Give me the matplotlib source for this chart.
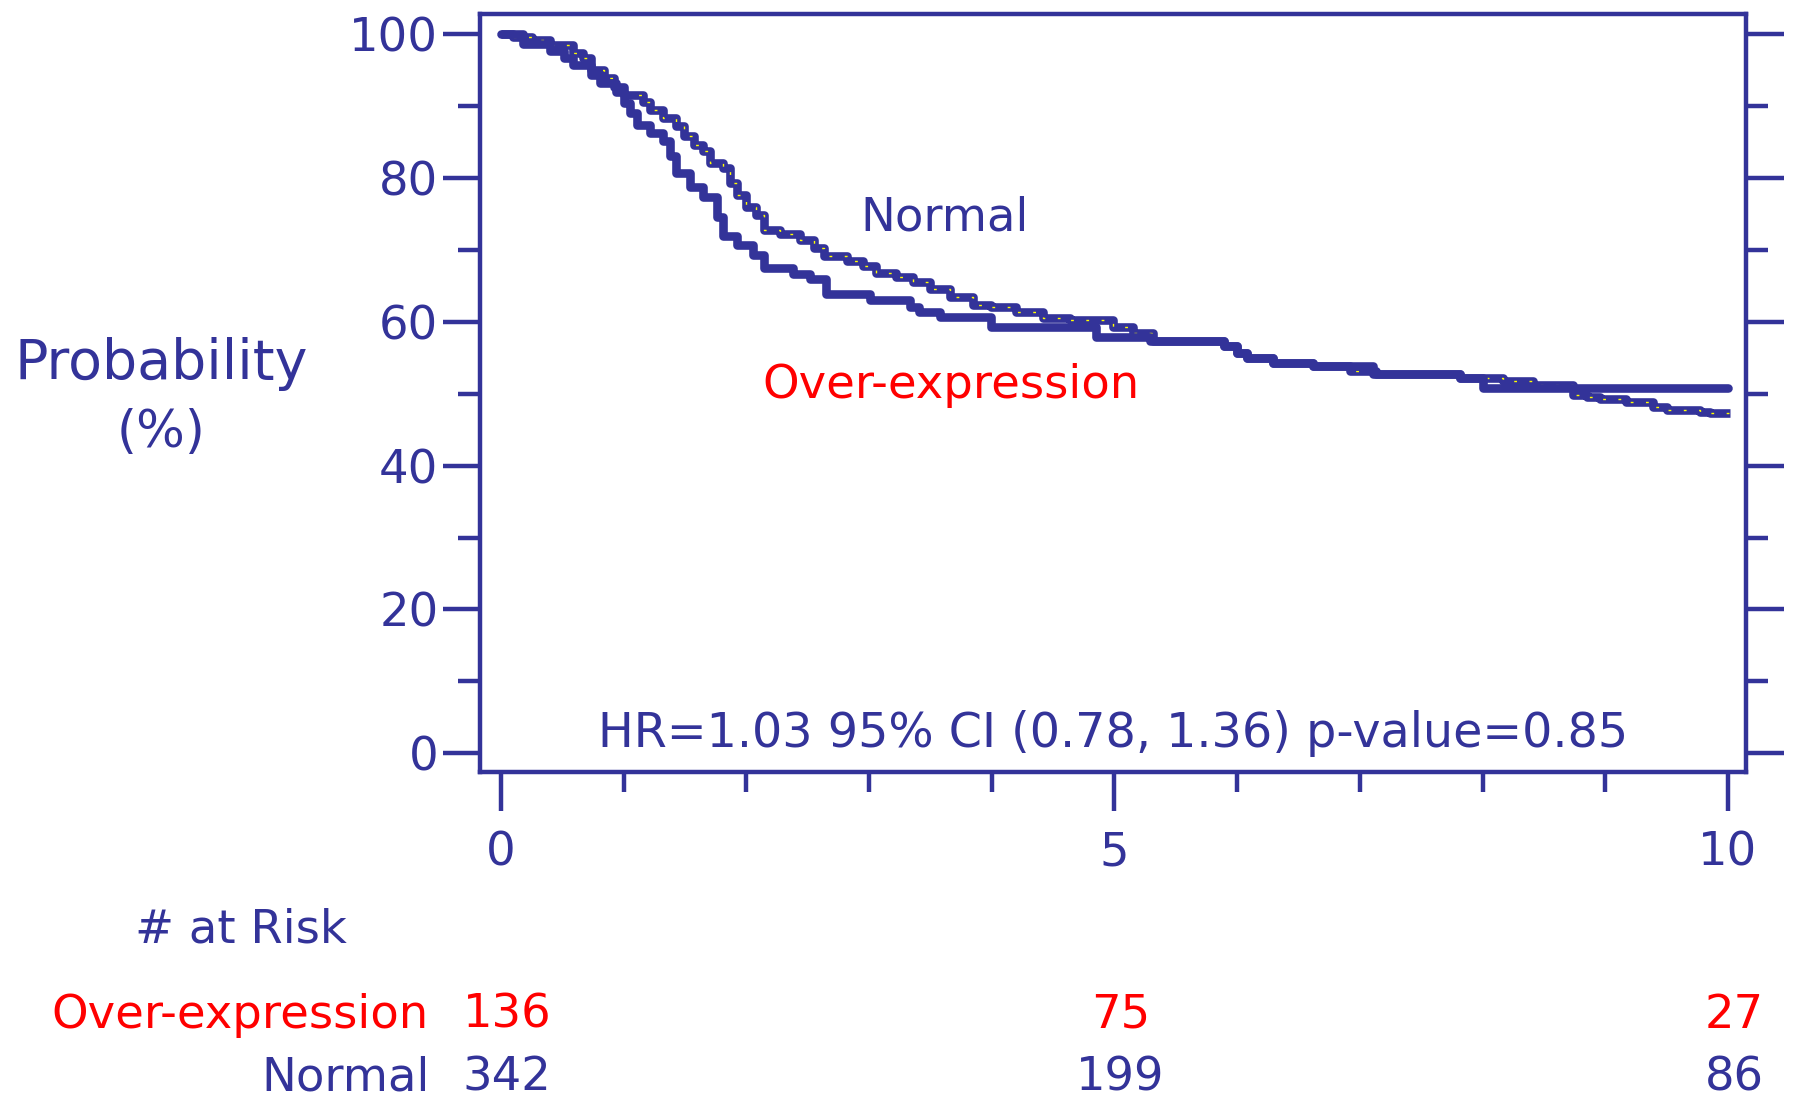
import matplotlib
matplotlib.use("Agg")
import matplotlib.pyplot as plt

BLUE = "#333399"
RED = "#ff0000"

# Kaplan-Meier steps (years, survival %)
over_t = [0, 0.18, 0.40, 0.51, 0.59, 0.73, 0.81, 0.94, 1.00, 1.05, 1.11, 1.21,
          1.32, 1.38, 1.43, 1.54, 1.65, 1.76, 1.81, 1.92, 2.05, 2.14, 2.38, 2.52,
          2.65, 3.01, 3.33, 3.41, 3.58, 3.99, 4.85, 5.29, 5.89, 6.00, 6.08, 6.29,
          6.62, 7.11, 7.82, 8.00, 10.0]
over_s = [100, 98.6, 97.7, 96.7, 95.7, 94.3, 93.2, 92.0, 90.4, 89.0, 87.4, 86.3,
          85.1, 83.0, 80.7, 78.8, 77.4, 74.6, 71.9, 70.7, 69.3, 67.5, 66.7, 66.0,
          63.8, 63.1, 62.1, 61.4, 60.7, 59.3, 57.9, 57.3, 56.6, 55.6, 54.9, 54.3,
          53.9, 52.7, 52.2, 50.8, 50.8]

normal_t = [0, 0.10, 0.25, 0.40, 0.59, 0.67, 0.73, 0.84, 0.92, 1.00, 1.16, 1.21,
            1.32, 1.43, 1.49, 1.57, 1.65, 1.70, 1.81, 1.87, 1.92, 2.00, 2.08, 2.14,
            2.27, 2.44, 2.55, 2.63, 2.82, 2.95, 3.06, 3.22, 3.36, 3.50, 3.66, 3.85,
            3.99, 4.20, 4.42, 4.64, 4.99, 5.15, 5.31, 5.89, 6.00, 6.08, 6.29, 6.62,
            6.92, 7.13, 7.82, 8.17, 8.41, 8.74, 8.85, 8.96, 9.17, 9.39, 9.50, 9.77,
            9.85, 10.02]
normal_s = [100, 99.6, 99.2, 98.5, 97.4, 96.7, 95.0, 93.9, 92.7, 91.6, 90.6, 89.5,
            88.3, 87.2, 85.8, 84.6, 83.7, 82.1, 81.4, 79.3, 77.6, 76.0, 74.9, 72.8,
            72.2, 71.4, 70.2, 69.1, 68.4, 67.8, 66.8, 66.3, 65.6, 64.5, 63.5, 62.4,
            62.0, 61.3, 60.5, 60.2, 59.3, 58.4, 57.4, 56.6, 55.6, 54.9, 54.3, 53.9,
            53.2, 52.7, 52.2, 51.7, 51.2, 49.8, 49.6, 49.2, 48.9, 48.2, 47.8, 47.5,
            47.3, 47.3]

risk_times = [0, 5, 10]
risk_over = [136, 75, 27]
risk_normal = [342, 199, 86]

y_major = [0, 20, 40, 60, 80, 100]
y_minor = [10, 30, 50, 70, 90]
x_major = [0, 5, 10]
x_minor = [1, 2, 3, 4, 6, 7, 8, 9]

hr_text = "HR=1.03 95% CI (0.78, 1.36) p-value=0.85"

plt.rcParams['font.family'] = ['DejaVu Sans']
fs = 33.5

fig = plt.figure(figsize=(17.98, 10.97), dpi=100)
ax = fig.add_axes([0.267, 0.2963, 0.704, 0.6909])

ax.step(normal_t, normal_s, where='post', color=BLUE, lw=6.2,
        solid_joinstyle='round', solid_capstyle='butt', zorder=3)
ax.step(normal_t, normal_s, where='post', color='#ffff00', lw=1.0,
        linestyle=(0, (2, 9)), zorder=4)
ax.step(over_t, over_s, where='post', color=BLUE, lw=6.2,
        solid_joinstyle='round', solid_capstyle='round', zorder=5)

ax.set_xlim(-0.171, 10.146)
ax.set_ylim(-2.6, 102.8)

for sp in ax.spines.values():
    sp.set_color(BLUE)
    sp.set_linewidth(3.2)

ax.set_yticks(y_major)
ax.set_yticks(y_minor, minor=True)
ax.set_xticks(x_major)
ax.set_xticks(x_minor, minor=True)
ax.tick_params(axis='y', which='both', left=True, right=True, direction='out',
               color=BLUE, width=3.2, labelcolor=BLUE, labelsize=fs)
ax.tick_params(axis='y', which='major', length=27, pad=3)
ax.tick_params(axis='y', which='minor', length=15.5)
ax.tick_params(axis='x', which='both', bottom=True, top=False, direction='out',
               color=BLUE, width=3.2, labelcolor=BLUE, labelsize=fs)
ax.tick_params(axis='x', which='major', length=28, pad=14)
ax.tick_params(axis='x', which='minor', length=14.5)

ax.text(2.93, 74.5, "Normal", color=BLUE, fontsize=fs, ha='left', va='center')
ax.text(2.13, 51.2, "Over-expression", color=RED, fontsize=fs, ha='left', va='center')
ax.text(4.99, 2.7, hr_text, color=BLUE, fontsize=34.3, ha='center', va='center')

fig.text(0.0896, 0.668, "Probability", color=BLUE, fontsize=40, ha='center', va='center')
fig.text(0.0896, 0.605, "(%)", color=BLUE, fontsize=37, ha='center', va='center')

fig.text(135 / 1798, 1 - 930 / 1097, "# at Risk", color=BLUE, fontsize=fs,
         ha='left', va='center')
fig.text(429 / 1798, 1 - 1015 / 1097, "Over-expression", color=RED, fontsize=fs,
         ha='right', va='center')
fig.text(430 / 1798, 1 - 1078 / 1097, "Normal", color=BLUE, fontsize=fs,
         ha='right', va='center')

trans = ax.get_xaxis_transform()
y_over = (1 - 1015 / 1097 - 0.2963) / 0.6909
y_norm = (1 - 1078 / 1097 - 0.2963) / 0.6909
for t, a, b in zip(risk_times, risk_over, risk_normal):
    ax.text(t + 0.05, y_over, str(a), color=RED, fontsize=fs, ha='center',
            va='center', transform=trans, clip_on=False)
    ax.text(t + 0.05, y_norm, str(b), color=BLUE, fontsize=fs, ha='center',
            va='center', transform=trans, clip_on=False)

fig.savefig("out.png", dpi=100)
